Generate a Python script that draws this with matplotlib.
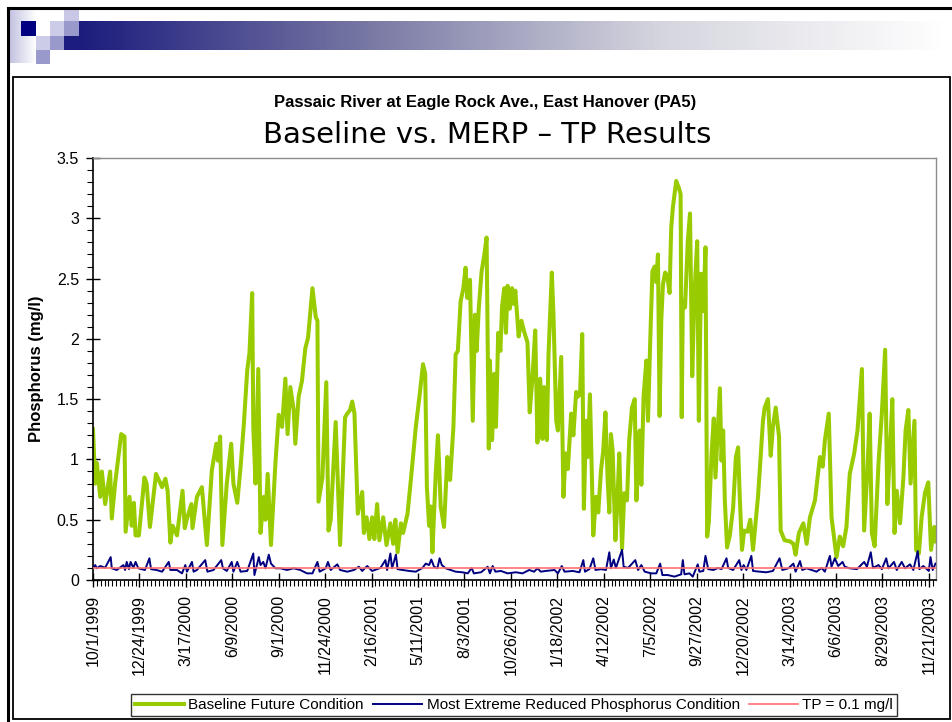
import datetime as dt
import numpy as np
import matplotlib
matplotlib.use("Agg")
import matplotlib.pyplot as plt
from matplotlib.patches import Rectangle
from matplotlib.colors import LinearSegmentedColormap
from matplotlib.ticker import MultipleLocator, FuncFormatter

START = dt.date(1999, 10, 1)

# days since 10/1/1999 and TP (mg/l)
green_days = [0, 4, 7, 13, 16, 22, 31, 34, 40, 51, 57, 59, 66, 70, 74, 77, 83, 93, 97, 103,
              114, 125, 131, 135, 140, 144, 152, 162, 166, 170, 178, 180, 188, 197, 206, 215,
              223, 226, 230, 234, 242, 250, 254, 261, 267, 273, 279, 283, 288, 290, 294, 299,
              303, 309, 312, 316, 322, 330, 336, 342, 348, 352, 357, 363, 366, 372, 378, 384,
              389, 397, 403, 406, 408, 415, 422, 426, 430, 439, 447, 456, 460, 465, 469, 473,
              479, 487, 490, 495, 500, 505, 509, 514, 518, 525, 531, 538, 543, 547, 551, 557,
              561, 569, 575, 584, 591, 597, 601, 604, 608, 611, 614, 620, 624, 629, 635, 641,
              646, 652, 656, 660, 665, 670, 674, 677, 682, 687, 691, 694, 698, 703, 708, 712,
              716, 718, 722, 726, 729, 733, 737, 740, 744, 747, 750, 754, 758, 761, 764, 770,
              775, 780, 786, 790, 795, 800, 804, 809, 813, 816, 821, 824, 830, 833, 838, 841,
              847, 851, 855, 859, 865, 869, 874, 877, 881, 885, 888, 892, 895, 899, 905, 910,
              914, 919, 923, 927, 931, 934, 937, 940, 945, 948, 952, 957, 961, 966, 970, 975,
              980, 983, 986, 989, 992, 996, 1001, 1004, 1008, 1012, 1016, 1019, 1022, 1025,
              1028, 1031, 1035, 1039, 1043, 1046, 1049, 1052, 1055, 1060, 1063, 1065, 1067,
              1071, 1076, 1080, 1084, 1088, 1093, 1096, 1100, 1104, 1108, 1111, 1114, 1119,
              1123, 1126, 1129, 1134, 1137, 1140, 1143, 1147, 1152, 1158, 1163, 1167, 1170,
              1174, 1178, 1184, 1189, 1194, 1203, 1212, 1215, 1221, 1226, 1230, 1235, 1241,
              1244, 1251, 1261, 1267, 1271, 1277, 1285, 1291, 1297, 1306, 1315, 1320, 1324,
              1331, 1336, 1345, 1351, 1357, 1363, 1369, 1377, 1383, 1391, 1395, 1401, 1405,
              1409, 1414, 1421, 1427, 1433, 1437, 1442, 1446, 1450, 1454, 1460, 1466, 1470,
              1475, 1479, 1482, 1486, 1489, 1494, 1499, 1505, 1511, 1516, 1522, 1525]
green_tp = [1.25, 0.80, 0.97, 0.69, 0.90, 0.63, 0.90, 0.51, 0.80, 1.21, 1.19, 0.40, 0.69, 0.45,
            0.64, 0.37, 0.37, 0.85, 0.80, 0.44, 0.88, 0.77, 0.84, 0.74, 0.31, 0.45, 0.37, 0.74,
            0.43, 0.51, 0.63, 0.43, 0.69, 0.77, 0.29, 0.91, 1.13, 0.99, 1.19, 0.29, 0.80, 1.13,
            0.80, 0.64, 0.94, 1.30, 1.74, 1.88, 2.38, 1.27, 0.80, 1.75, 0.39, 0.69, 0.50, 0.88,
            0.29, 0.97, 1.37, 1.27, 1.67, 1.21, 1.60, 1.41, 1.13, 1.52, 1.65, 1.92, 2.01, 2.42,
            2.18, 2.15, 0.65, 0.85, 1.64, 0.41, 0.50, 1.31, 0.29, 1.35, 1.38, 1.41, 1.48, 1.38,
            0.55, 0.73, 0.39, 0.52, 0.34, 0.52, 0.34, 0.63, 0.33, 0.52, 0.29, 0.47, 0.30, 0.50,
            0.23, 0.47, 0.39, 0.55, 0.83, 1.27, 1.54, 1.79, 1.71, 0.77, 0.45, 0.61, 0.23, 0.88,
            1.20, 0.61, 0.44, 1.02, 0.83, 1.27, 1.87, 1.90, 2.31, 2.42, 2.59, 2.34, 2.49, 1.32,
            2.20, 1.90, 2.26, 2.56, 2.70, 2.84, 1.09, 1.82, 1.16, 1.71, 1.27, 2.05, 1.90, 2.27,
            2.42, 2.05, 2.44, 2.25, 2.42, 2.29, 2.40, 2.02, 2.15, 2.06, 1.97, 1.39, 1.68, 2.07,
            1.14, 1.67, 1.17, 1.60, 1.16, 1.87, 2.55, 2.20, 1.32, 1.24, 1.85, 0.69, 1.05, 0.92,
            1.38, 1.20, 1.56, 1.52, 1.54, 2.04, 0.59, 1.32, 1.02, 1.54, 0.37, 0.69, 0.56, 0.91,
            1.07, 1.39, 0.83, 0.56, 1.21, 1.07, 0.33, 0.58, 1.05, 0.26, 0.72, 0.66, 1.16, 1.43,
            1.50, 0.66, 0.94, 1.24, 0.79, 1.52, 1.82, 1.32, 1.98, 2.56, 2.60, 2.47, 2.70, 1.36,
            2.15, 2.45, 2.55, 2.52, 2.38, 2.92, 3.09, 3.20, 3.31, 3.25, 3.20, 1.35, 2.31, 2.26,
            2.81, 3.04, 1.69, 2.37, 2.81, 1.32, 2.54, 2.23, 2.76, 0.36, 0.48, 1.05, 1.34, 0.85,
            1.13, 1.59, 0.99, 1.24, 0.66, 0.27, 0.37, 0.60, 1.02, 1.10, 0.69, 0.25, 0.41, 0.40,
            0.50, 0.25, 0.69, 1.32, 1.43, 1.50, 1.03, 1.27, 1.43, 1.19, 0.41, 0.33, 0.32, 0.30,
            0.21, 0.39, 0.47, 0.30, 0.52, 0.66, 1.02, 0.94, 1.16, 1.38, 0.52, 0.19, 0.36, 0.28,
            0.44, 0.88, 1.05, 1.24, 1.75, 0.41, 0.91, 1.38, 0.39, 0.28, 0.97, 1.38, 1.91, 0.63,
            1.10, 1.50, 0.39, 0.74, 0.47, 0.85, 1.24, 1.41, 0.80, 1.02, 1.32, 0.25, 0.22, 0.52,
            0.72, 0.81, 0.25, 0.44, 0.32]

blue_days = [0, 4, 7, 13, 22, 32, 34, 43, 55, 58, 61, 65, 68, 73, 77, 82, 94, 102, 105, 115,
             125, 137, 140, 152, 161, 167, 170, 179, 182, 188, 194, 203, 207, 218, 232, 235,
             242, 251, 254, 261, 267, 279, 290, 292, 300, 303, 308, 312, 318, 322, 330, 339,
             351, 363, 375, 387, 397, 406, 410, 421, 425, 430, 442, 447, 460, 472, 481, 487,
             496, 505, 514, 520, 529, 532, 538, 541, 548, 551, 560, 572, 584, 596, 602, 608,
             612, 617, 623, 627, 631, 638, 647, 656, 668, 678, 685, 689, 702, 714, 718, 723,
             728, 738, 750, 765, 777, 789, 798, 804, 810, 819, 835, 841, 848, 853, 868, 880,
             887, 890, 898, 905, 909, 919, 928, 934, 937, 942, 946, 957, 960, 968, 981, 986,
             992, 998, 1010, 1019, 1026, 1030, 1040, 1052, 1064, 1067, 1070, 1079, 1085, 1094,
             1097, 1104, 1108, 1113, 1122, 1131, 1137, 1146, 1149, 1158, 1169, 1173, 1177,
             1182, 1191, 1194, 1206, 1218, 1230, 1242, 1247, 1258, 1267, 1271, 1279, 1283,
             1291, 1300, 1309, 1318, 1324, 1333, 1336, 1342, 1348, 1356, 1360, 1369, 1382,
             1395, 1400, 1407, 1411, 1421, 1427, 1435, 1439, 1449, 1454, 1463, 1469, 1478,
             1484, 1492, 1495, 1502, 1512, 1515, 1519, 1524]
blue_tp = [0.10, 0.124, 0.097, 0.116, 0.102, 0.19, 0.097, 0.083, 0.124, 0.083, 0.15, 0.09,
           0.15, 0.10, 0.15, 0.097, 0.083, 0.18, 0.09, 0.083, 0.069, 0.15, 0.083, 0.083, 0.055,
           0.124, 0.069, 0.15, 0.069, 0.083, 0.116, 0.165, 0.069, 0.083, 0.165, 0.097, 0.075,
           0.15, 0.069, 0.15, 0.069, 0.075, 0.22, 0.041, 0.19, 0.124, 0.15, 0.097, 0.21, 0.136,
           0.097, 0.097, 0.083, 0.097, 0.083, 0.055, 0.055, 0.15, 0.069, 0.097, 0.15, 0.083,
           0.13, 0.083, 0.069, 0.083, 0.11, 0.075, 0.116, 0.075, 0.09, 0.10, 0.165, 0.083, 0.22,
           0.097, 0.21, 0.09, 0.083, 0.075, 0.069, 0.10, 0.136, 0.124, 0.17, 0.11, 0.097, 0.18,
           0.124, 0.097, 0.083, 0.069, 0.064, 0.055, 0.10, 0.055, 0.064, 0.11, 0.055, 0.116,
           0.069, 0.075, 0.055, 0.064, 0.055, 0.083, 0.069, 0.097, 0.069, 0.075, 0.083, 0.055,
           0.116, 0.069, 0.075, 0.064, 0.165, 0.069, 0.09, 0.18, 0.083, 0.09, 0.083, 0.23,
           0.097, 0.17, 0.10, 0.25, 0.11, 0.10, 0.165, 0.083, 0.124, 0.069, 0.055, 0.055, 0.136,
           0.041, 0.041, 0.028, 0.047, 0.165, 0.047, 0.055, 0.028, 0.13, 0.069, 0.075, 0.20,
           0.09, 0.083, 0.10, 0.09, 0.18, 0.10, 0.083, 0.165, 0.083, 0.124, 0.083, 0.20, 0.075,
           0.069, 0.064, 0.075, 0.18, 0.083, 0.097, 0.136, 0.069, 0.157, 0.083, 0.097, 0.083,
           0.069, 0.10, 0.069, 0.20, 0.11, 0.18, 0.116, 0.15, 0.11, 0.097, 0.09, 0.15, 0.11,
           0.23, 0.10, 0.124, 0.09, 0.18, 0.097, 0.15, 0.083, 0.15, 0.097, 0.13, 0.083, 0.24,
           0.09, 0.116, 0.075, 0.19, 0.083, 0.136]

tp_target = 0.1
x_end = 1525
tick_step = 84

labels = ["Baseline Future Condition", "Most Extreme Reduced Phosphorus Condition",
          "TP = 0.1 mg/l"]

W, H = 952, 722
fig = plt.figure(figsize=(W / 100, H / 100), dpi=100)

# slide decoration, drawn in pixel space
deco = fig.add_axes([0, 0, 1, 1])
deco.axis("off")
ramp = np.linspace(0, 1, 256)[None, :]
bar_cmap = LinearSegmentedColormap.from_list("bar", ["#1c1c7e", "#7878a4", "#d4d4de", "#ffffff"])
fade_cmap = LinearSegmentedColormap.from_list("fade", ["#c0c0e0", "#ffffff"])
deco.imshow(ramp, cmap=bar_cmap, extent=[79, 945, 50, 21], aspect="auto", zorder=1)
deco.imshow(ramp, cmap=fade_cmap, extent=[9, 36, 63, 9], aspect="auto", zorder=1)
squares = [
    (21, 21, 15, 15, "#000080"),
    (64, 9, 15, 12, "#c8c8e6"),
    (50, 21, 14, 15, "#cccce8"),
    (64, 21, 15, 15, "#9999cc"),
    (36, 36, 14, 14, "#cccce8"),
    (50, 36, 14, 14, "#9999cc"),
    (64, 36, 15, 14, "#1c1c7e"),
    (36, 50, 14, 14, "#9999cc"),
]
for x0, y0, w, h, c in squares:
    deco.add_patch(Rectangle((x0, y0), w, h, facecolor=c, edgecolor="none", zorder=2))
deco.plot([8, 952], [8, 8], color="black", lw=2.2, zorder=3)
deco.plot([8, 8], [8, 722], color="black", lw=2.2, zorder=3)
deco.add_patch(Rectangle((12.5, 76.5), 937, 642, facecolor="none", edgecolor="black",
                         lw=1.3, zorder=3))
deco.set_xlim(0, W)
deco.set_ylim(H, 0)

fig.text(485 / W, 1 - 103 / H, "Passaic River at Eagle Rock Ave., East Hanover (PA5)",
         ha="center", va="center", fontsize=12, fontweight="bold", family="Liberation Sans")
fig.text(487 / W, 1 - 135 / H, "Baseline vs. MERP \u2013 TP Results",
         ha="center", va="center", fontsize=21, family="DejaVu Sans")

ax = fig.add_axes([93 / W, 1 - 580 / H, (936 - 93) / W, (580 - 158) / H])
ax.plot(green_days, green_tp, color="#99cc00", lw=2.9, label=labels[0], zorder=2)
ax.plot(blue_days, blue_tp, color="#000080", lw=1.4, label=labels[1], zorder=3)
ax.axhline(tp_target, color="#ff7070", lw=1.2, label=labels[2], zorder=4)

ax.set_xlim(0, x_end)
ax.set_ylim(0, 3.5)
ax.xaxis.set_major_locator(MultipleLocator(tick_step))
ax.xaxis.set_minor_locator(MultipleLocator(7))
ax.yaxis.set_major_locator(MultipleLocator(0.5))
ax.yaxis.set_minor_locator(MultipleLocator(0.1))


def day_label(v, pos):
    d = START + dt.timedelta(days=int(round(v)))
    return f"{d.month}/{d.day}/{d.year}"


ax.xaxis.set_major_formatter(FuncFormatter(day_label))
ax.yaxis.set_major_formatter(FuncFormatter(lambda v, p: f"{v:g}"))
ax.tick_params(axis="x", which="major", direction="inout", length=10, width=1, pad=6,
               labelrotation=90, labelsize=11.5)
ax.tick_params(axis="x", which="minor", direction="out", length=4, width=0.8)
ax.tick_params(axis="y", which="major", direction="inout", length=10, width=1, pad=5,
               labelsize=11.5)
ax.tick_params(axis="y", which="minor", direction="out", length=4, width=0.8)
for lab in ax.get_xticklabels() + ax.get_yticklabels():
    lab.set_family("Liberation Sans")

for s in ("left", "bottom"):
    ax.spines[s].set_color("black")
    ax.spines[s].set_linewidth(1.2)
for s in ("top", "right"):
    ax.spines[s].set_color("#8c8c8c")
    ax.spines[s].set_linewidth(1.0)

ax.set_ylabel("Phosphorus (mg/l)", fontsize=12, fontweight="bold", family="Liberation Sans",
              labelpad=9)

leg = fig.legend(loc="center", bbox_to_anchor=(514 / W, 1 - 705 / H), ncol=3,
                 prop={"family": "Liberation Sans", "size": 11}, frameon=True, fancybox=False,
                 edgecolor="black", handlelength=3.2, handletextpad=0.3, columnspacing=0.6,
                 borderpad=0.25)
leg.get_frame().set_linewidth(1.0)

fig.savefig("out.png", dpi=100)
